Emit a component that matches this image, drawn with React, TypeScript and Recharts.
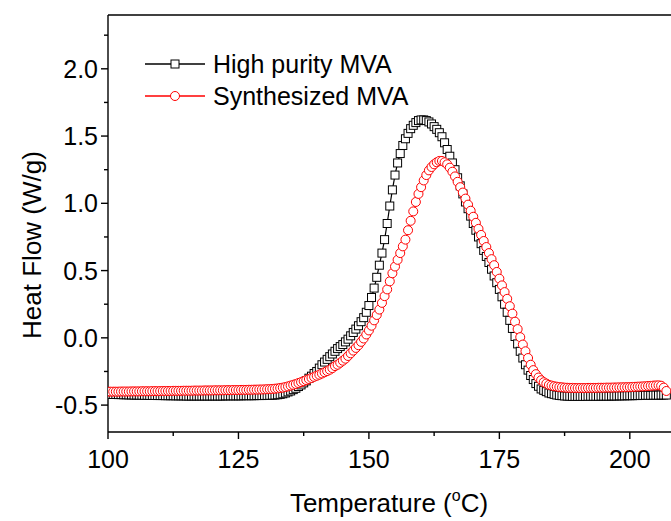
import React from "react";
import { LineChart, Line, XAxis, YAxis, Legend, Label, ReferenceLine } from "recharts";

// DSC curves, every 0.5 °C
const temperatures = [
  100, 100.5, 101, 101.5, 102, 102.5, 103, 103.5, 104, 104.5,
  105, 105.5, 106, 106.5, 107, 107.5, 108, 108.5, 109, 109.5,
  110, 110.5, 111, 111.5, 112, 112.5, 113, 113.5, 114, 114.5,
  115, 115.5, 116, 116.5, 117, 117.5, 118, 118.5, 119, 119.5,
  120, 120.5, 121, 121.5, 122, 122.5, 123, 123.5, 124, 124.5,
  125, 125.5, 126, 126.5, 127, 127.5, 128, 128.5, 129, 129.5,
  130, 130.5, 131, 131.5, 132, 132.5, 133, 133.5, 134, 134.5,
  135, 135.5, 136, 136.5, 137, 137.5, 138, 138.5, 139, 139.5,
  140, 140.5, 141, 141.5, 142, 142.5, 143, 143.5, 144, 144.5,
  145, 145.5, 146, 146.5, 147, 147.5, 148, 148.5, 149, 149.5,
  150, 150.5, 151, 151.5, 152, 152.5, 153, 153.5, 154, 154.5,
  155, 155.5, 156, 156.5, 157, 157.5, 158, 158.5, 159, 159.5,
  160, 160.5, 161, 161.5, 162, 162.5, 163, 163.5, 164, 164.5,
  165, 165.5, 166, 166.5, 167, 167.5, 168, 168.5, 169, 169.5,
  170, 170.5, 171, 171.5, 172, 172.5, 173, 173.5, 174, 174.5,
  175, 175.5, 176, 176.5, 177, 177.5, 178, 178.5, 179, 179.5,
  180, 180.5, 181, 181.5, 182, 182.5, 183, 183.5, 184, 184.5,
  185, 185.5, 186, 186.5, 187, 187.5, 188, 188.5, 189, 189.5,
  190, 190.5, 191, 191.5, 192, 192.5, 193, 193.5, 194, 194.5,
  195, 195.5, 196, 196.5, 197, 197.5, 198, 198.5, 199, 199.5,
  200, 200.5, 201, 201.5, 202, 202.5, 203, 203.5, 204, 204.5,
  205, 205.5, 206, 206.5, 207,
];

const highPurity = [
  -0.42, -0.42, -0.421, -0.421, -0.422, -0.422, -0.423, -0.423, -0.424, -0.424,
  -0.425, -0.425, -0.426, -0.426, -0.427, -0.427, -0.428, -0.428, -0.428, -0.429,
  -0.429, -0.429, -0.43, -0.43, -0.43, -0.43, -0.431, -0.431, -0.431, -0.431,
  -0.432, -0.432, -0.432, -0.432, -0.432, -0.432, -0.432, -0.432, -0.432, -0.432,
  -0.432, -0.432, -0.432, -0.432, -0.432, -0.431, -0.431, -0.431, -0.431, -0.431,
  -0.431, -0.431, -0.43, -0.43, -0.43, -0.43, -0.43, -0.429, -0.429, -0.429,
  -0.428, -0.428, -0.427, -0.426, -0.425, -0.423, -0.42, -0.416, -0.41, -0.402,
  -0.395, -0.385, -0.375, -0.362, -0.35, -0.335, -0.32, -0.3, -0.285, -0.265,
  -0.25, -0.225, -0.2, -0.18, -0.16, -0.14, -0.12, -0.1, -0.08, -0.065,
  -0.05, -0.03, -0.01, 0.015, 0.04, 0.065, 0.09, 0.12, 0.15, 0.19,
  0.24, 0.3, 0.37, 0.45, 0.54, 0.63, 0.73, 0.85, 0.98, 1.1,
  1.21, 1.3, 1.37, 1.43, 1.48, 1.52, 1.555, 1.58, 1.6, 1.615,
  1.62, 1.62, 1.615, 1.605, 1.59, 1.57, 1.55, 1.525, 1.495, 1.45,
  1.4, 1.35, 1.3, 1.25, 1.19, 1.13, 1.07, 1.01, 0.96, 0.905,
  0.85, 0.8, 0.75, 0.7, 0.65, 0.605, 0.56, 0.51, 0.46, 0.41,
  0.36, 0.305, 0.25, 0.19, 0.13, 0.07, 0.01, -0.045, -0.1, -0.15,
  -0.2, -0.24, -0.28, -0.31, -0.34, -0.36, -0.38, -0.39, -0.4, -0.41,
  -0.415, -0.42, -0.425, -0.428, -0.43, -0.432, -0.433, -0.434, -0.435, -0.435,
  -0.435, -0.435, -0.435, -0.435, -0.434, -0.434, -0.434, -0.434, -0.434, -0.433,
  -0.433, -0.433, -0.433, -0.432, -0.432, -0.432, -0.431, -0.431, -0.431, -0.43,
  -0.43, -0.43, -0.429, -0.429, -0.428, -0.428, -0.427, -0.427, -0.427, -0.426,
  -0.426, -0.426, -0.425, -0.425, -0.425,
];

const synthesized = [
  -0.4, -0.4, -0.4, -0.4, -0.4, -0.399, -0.399, -0.399, -0.399, -0.398,
  -0.398, -0.398, -0.398, -0.397, -0.397, -0.397, -0.397, -0.396, -0.396, -0.396,
  -0.396, -0.395, -0.395, -0.395, -0.395, -0.394, -0.394, -0.394, -0.394, -0.393,
  -0.393, -0.393, -0.393, -0.392, -0.392, -0.392, -0.392, -0.391, -0.391, -0.391,
  -0.391, -0.39, -0.39, -0.39, -0.39, -0.389, -0.389, -0.389, -0.388, -0.388,
  -0.388, -0.387, -0.387, -0.387, -0.386, -0.386, -0.385, -0.385, -0.384, -0.384,
  -0.383, -0.382, -0.381, -0.38, -0.378, -0.376, -0.373, -0.37, -0.366, -0.361,
  -0.355, -0.349, -0.343, -0.336, -0.329, -0.322, -0.314, -0.306, -0.298, -0.29,
  -0.282, -0.274, -0.265, -0.256, -0.247, -0.237, -0.225, -0.21, -0.2, -0.185,
  -0.17, -0.155, -0.135, -0.115, -0.095, -0.075, -0.055, -0.03, -0.005, 0.025,
  0.055, 0.09, 0.13, 0.17, 0.21, 0.26, 0.31, 0.36, 0.42, 0.48,
  0.53, 0.58, 0.63, 0.68, 0.73, 0.8, 0.87, 0.94, 1.01, 1.07,
  1.12, 1.17, 1.21, 1.245, 1.27, 1.29, 1.305, 1.315, 1.315, 1.305,
  1.29, 1.265, 1.235, 1.2, 1.16, 1.12, 1.08, 1.035, 0.99, 0.945,
  0.9, 0.855, 0.81, 0.765, 0.72, 0.675, 0.63, 0.585, 0.54, 0.49,
  0.44, 0.39, 0.34, 0.29, 0.235, 0.18, 0.12, 0.065, 0.005, -0.05,
  -0.1, -0.15, -0.2, -0.24, -0.27, -0.295, -0.315, -0.33, -0.34, -0.35,
  -0.355, -0.36, -0.363, -0.366, -0.368, -0.37, -0.371, -0.372, -0.372, -0.373,
  -0.373, -0.373, -0.373, -0.373, -0.372, -0.372, -0.372, -0.372, -0.371, -0.371,
  -0.371, -0.37, -0.37, -0.37, -0.369, -0.369, -0.368, -0.368, -0.367, -0.367,
  -0.366, -0.365, -0.364, -0.363, -0.362, -0.361, -0.36, -0.358, -0.357, -0.355,
  -0.354, -0.353, -0.356, -0.37, -0.395,
];

const xTicks = [100, 112.5, 125, 137.5, 150, 162.5, 175, 187.5, 200];
const yTicks = [-0.5, -0.25, 0, 0.25, 0.5, 0.75, 1, 1.25, 1.5, 1.75, 2, 2.25];

const data = temperatures.map((t, i) => ({
  t,
  highPurity: highPurity[i],
  synthesized: synthesized[i],
}));

const FONT = "'Liberation Sans', Arial, sans-serif";
const AXIS_W = 1.4;

const isMajorY = (v: number) => Math.abs(v * 2 - Math.round(v * 2)) < 1e-6;

const YTick = ({ x, y, payload }: any) => {
  const major = isMajorY(payload.value);
  return (
    <g>
      <line x1={x} x2={x - (major ? 7 : 4)} y1={y} y2={y} stroke="#000" strokeWidth={AXIS_W} />
      {major && (
        <text x={x - 10} y={y} dy="0.36em" textAnchor="end" fontSize={25} fontFamily={FONT} fill="#000">
          {payload.value.toFixed(1)}
        </text>
      )}
    </g>
  );
};

const XTick = ({ x, y, payload }: any) => {
  const major = payload.value % 25 === 0;
  return (
    <g>
      <line x1={x} x2={x} y1={y} y2={y + (major ? 7 : 4)} stroke="#000" strokeWidth={AXIS_W} />
      {major && (
        <text x={x} y={y + 36} textAnchor="middle" fontSize={25} fontFamily={FONT} fill="#000">
          {payload.value}
        </text>
      )}
    </g>
  );
};

const SquareDot = ({ cx, cy, index }: any) => (
  <rect key={index} x={cx - 4} y={cy - 4} width={8} height={8} fill="#fff" stroke="#000" strokeWidth={1} />
);

const CircleDot = ({ cx, cy, index }: any) => (
  <circle key={index} cx={cx} cy={cy} r={4.5} fill="#fff" stroke="#ff0000" strokeWidth={1} />
);

const legendRows = [
  { name: "High purity MVA", color: "#000", shape: "square" },
  { name: "Synthesized MVA", color: "#ff0000", shape: "circle" },
];

const renderLegend = () => (
  <div style={{ fontFamily: FONT, fontSize: 25, color: "#000", whiteSpace: "nowrap" }}>
    {legendRows.map((r) => (
      <div key={r.name} style={{ display: "flex", alignItems: "center", height: 32 }}>
        <svg width={68} height={16} style={{ flex: "none" }}>
          <line x1={0} x2={60} y1={8} y2={8} stroke={r.color} strokeWidth={1.5} />
          {r.shape === "square" ? (
            <rect x={26} y={4} width={8} height={8} fill="#fff" stroke={r.color} />
          ) : (
            <circle cx={30} cy={8} r={4.5} fill="#fff" stroke={r.color} />
          )}
        </svg>
        <span>{r.name}</span>
      </div>
    ))}
  </div>
);

const XTitle = ({ viewBox }: any) => (
  <text
    x={viewBox.x + 281}
    y={viewBox.y + 80}
    textAnchor="middle"
    fontSize={26}
    fontFamily={FONT}
    fill="#000"
  >
    Temperature (
    <tspan fontSize={16} dy={-11}>o</tspan>
    <tspan dy={11}>C)</tspan>
  </text>
);

const YTitle = ({ viewBox }: any) => {
  const cx = viewBox.x + 32;
  const cy = viewBox.y + 230;
  return (
    <text
      x={cx}
      y={cy}
      dy="0.36em"
      textAnchor="middle"
      fontSize={26}
      fontFamily={FONT}
      fill="#000"
      transform={`rotate(-90 ${cx} ${cy})`}
    >
      Heat Flow (W/g)
    </text>
  );
};

export default function App() {
  return (
    <div style={{ position: "absolute", left: 0, top: 0, width: 671, height: 521, overflow: "hidden", background: "#fff" }}>
      <LineChart width={700} height={521} data={data} margin={{ top: 15, right: 18, bottom: 0, left: 0 }}>
        <XAxis
          dataKey="t"
          type="number"
          domain={[100, 210]}
          ticks={xTicks}
          tick={<XTick />}
          tickLine={false}
          tickSize={0}
          tickMargin={0}
          height={89}
          axisLine={{ stroke: "#000", strokeWidth: AXIS_W }}
          allowDataOverflow
        >
          <Label content={<XTitle />} />
        </XAxis>
        <YAxis
          type="number"
          domain={[-0.7, 2.4]}
          ticks={yTicks}
          tick={<YTick />}
          tickLine={false}
          tickSize={0}
          tickMargin={0}
          width={108}
          axisLine={{ stroke: "#000", strokeWidth: AXIS_W }}
          allowDataOverflow
        >
          <Label content={<YTitle />} />
        </YAxis>
        {/* top frame of the plot box */}
        <ReferenceLine y={2.4} stroke="#000" strokeWidth={AXIS_W} />
        <Legend
          layout="vertical"
          align="center"
          verticalAlign="middle"
          content={renderLegend}
          wrapperStyle={{ left: 145, top: 48, width: "auto" }}
        />
        <Line
          type="linear"
          dataKey="highPurity"
          stroke="#000"
          strokeWidth={1.2}
          dot={<SquareDot />}
          activeDot={false}
          isAnimationActive={false}
        />
        <Line
          type="linear"
          dataKey="synthesized"
          stroke="#ff0000"
          strokeWidth={1.2}
          dot={<CircleDot />}
          activeDot={false}
          isAnimationActive={false}
        />
      </LineChart>
    </div>
  );
}
